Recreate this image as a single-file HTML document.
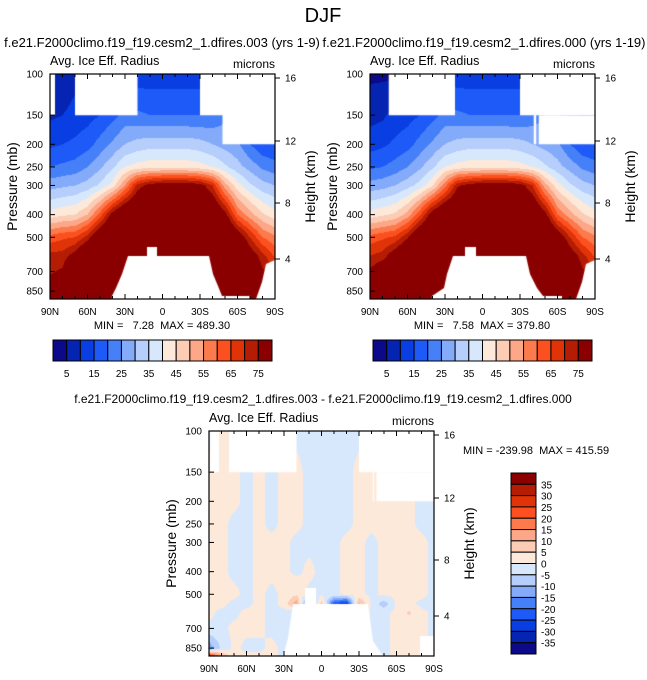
<!DOCTYPE html>
<html><head><meta charset="utf-8">
<style>
html,body{margin:0;padding:0;background:#fff;}
#root{position:relative;width:647px;height:680px;overflow:hidden;font-family:"Liberation Sans",Arial,sans-serif;}
canvas{position:absolute;}
svg{position:absolute;left:0;top:0;}
text{white-space:pre;}
</style></head>
<body>
<div id="root">
<canvas id="c1" width="225" height="225" style="left:50px;top:74px"></canvas>
<canvas id="c2" width="225" height="225" style="left:370px;top:74px"></canvas>
<canvas id="c3" width="225" height="225" style="left:209px;top:431px"></canvas>
<svg id="ov" width="647" height="680"></svg>
</div>
<script>
// ---- data ----
const lats = [90,80,70,60,50,40,30,20,10,0,-10,-20,-30,-40,-50,-60,-70,-80,-90];
const pressRows = [100,150,200,250,300,400,500,600,700,850,925];
const levels = [5,10,15,20,25,30,35,40,45,50,55,60,65,70,75];
const diffLevels = [-35,-30,-25,-20,-15,-10,-5,0,5,10,15,20,25,30,35];
const palette = ["#0c0a8a","#0624b2","#083ee2","#1e5af8","#4680f8","#84aafa","#b6cefc","#d8e8fc","#fde9da","#fcccb4","#fca888","#fc7a4c","#fc5020","#e03408","#b41c04","#8a0000"];
const heightTicks = [16,12,8,4];
const heightTickY = [78,141,203,259];
const pressTicks = [100,150,200,250,300,400,500,700,850];
const latTickLabels = ["90N","60N","30N","0","30S","60S","90S"];

const field1 = [
 [5,5,8,10,12,12,12,12,12,12,12,12,12,12,12,10,10,10,10],
 [9,10,12,13,15,18,22,21,20,20,20,20,20,21,24,26,18,14,12],
 [14,15,16,18,22,26,30,32,33,33,33,33,32,30,28,26,20,16,15],
 [20,21,22,25,29,34,40,42,43,43,43,43,42,40,36,32,28,24,22],
 [28,29,30,32,36,42,55,72,78,80,80,80,78,70,52,42,36,32,30],
 [42,44,45,50,62,78,88,90,90,90,90,90,90,88,78,60,52,46,42],
 [62,64,65,72,85,92,95,95,95,95,95,95,95,95,92,82,70,60,56],
 [72,72,78,88,92,95,95,95,95,95,95,95,95,95,95,90,80,72,64],
 [74,76,88,92,95,95,95,95,95,95,95,95,95,95,95,95,85,76,72],
 [80,84,90,95,95,95,95,95,95,95,95,95,95,95,95,95,88,80,78],
 [80,84,90,95,95,95,95,95,95,95,95,95,95,95,95,95,88,80,78]];
const field2 = [
 [4,4,4,8,12,12,12,12,12,12,12,12,12,12,12,10,10,10,10],
 [8,9,12,13,15,18,22,21,20,20,20,20,20,22,25,26,18,14,12],
 [13,14,16,18,22,26,30,32,33,33,33,33,32,30,28,26,20,16,15],
 [19,20,22,25,29,34,40,42,43,43,43,43,42,40,36,32,28,24,22],
 [27,28,30,33,37,44,58,74,78,80,80,80,78,70,52,42,36,32,30],
 [42,44,46,52,64,80,88,90,90,90,90,90,90,88,78,60,52,46,42],
 [62,64,66,74,86,92,95,95,95,95,95,95,95,95,92,82,70,60,56],
 [70,72,80,88,92,95,95,95,95,95,95,95,95,95,95,90,80,72,64],
 [76,82,88,92,95,95,95,95,95,95,95,95,95,95,95,95,85,76,72],
 [82,86,90,95,95,95,95,95,95,95,95,95,95,95,95,95,88,80,78],
 [82,86,90,95,95,95,95,95,95,95,95,95,95,95,95,95,88,80,78]];
const diffRows = [100,150,200,250,300,400,500,550,600,700,850,925];
const fieldDiff = [
 [-1,1,1,1,-1,-1,-1,-1,-1,-1,-1,-1,-1,-1,-1,-1,-1,-1,-1],
 [1,1,1,-1,1,-1,1,1,-1,-1,-1,-1,1,1,1,1,-1,-1,-1],
 [1,1,1,-1,1,-1,1,1,-1,-1,-1,-1,1,1,1,1,1,-1,-1],
 [1,1,-1,-1,1,-1,1,1,-1,-1,-1,-1,1,1,1,1,1,-1,-1],
 [1,1,-1,-1,1,1,1,-1,-1,-1,-1,1,1,-1,1,1,1,1,-1],
 [1,1,-1,-1,1,1,1,-1,1,-1,-1,1,1,-1,1,1,1,1,-1],
 [1,1,1,-1,1,-1,1,4,-1,-1,-1,1,1,-1,1,1,1,1,-1],
 [1,1,-1,-1,1,-1,1,14,-22,8,-24,-30,12,-1,-8,1,1,-1,-1],
 [1,-1,-1,1,1,-1,-1,-6,-20,-5,8,-20,10,-1,-1,1,6,1,-1],
 [-1,-1,1,1,1,-1,-1,-1,-1,-1,-1,-1,-1,-1,-1,1,1,1,-1],
 [-14,-4,1,-1,-1,1,-1,-1,-1,-1,-1,-1,-1,-1,-1,1,1,1,-1],
 [34,12,1,1,1,1,-1,-1,-1,-1,-1,-1,-1,-1,-1,1,1,1,-1]];

// ---- scales ----
const PW=225, PH=225, DEC=233.6;
function yOfP(p){return DEC*(Math.log10(p)-2);}
function xOfLat(lat){return (90-lat)/180*PW;}
function hexToRgb(h){return [parseInt(h.substr(1,2),16),parseInt(h.substr(3,2),16),parseInt(h.substr(5,2),16)];}
const palRgb = palette.map(hexToRgb);
function colorIdx(v,lv){let i=0;for(const l of lv){if(v>=l)i++;}return i;}
function sample(field,rows,x,y){
  const lat=90-x/PW*180; let fi=(90-lat)/10; fi=Math.max(0,Math.min(18,fi));
  const i0=Math.min(17,Math.floor(fi)), tx=fi-i0;
  const lp=2+y/DEC;
  let r=0; while(r<rows.length-2 && Math.log10(rows[r+1])<lp) r++;
  const a=Math.log10(rows[r]), b=Math.log10(rows[r+1]);
  let ty=(lp-a)/(b-a); ty=Math.max(0,Math.min(1,ty));
  const v00=field[r][i0],v01=field[r][i0+1],v10=field[r+1][i0],v11=field[r+1][i0+1];
  return (v00*(1-tx)+v01*tx)*(1-ty)+(v10*(1-tx)+v11*tx)*ty;
}
function paint(id,field,rows,lv,masks){
  const cv=document.getElementById(id), ctx=cv.getContext('2d');
  const img=ctx.createImageData(PW,PH);
  for(let y=0;y<PH;y++)for(let x=0;x<PW;x++){
    const c=palRgb[colorIdx(sample(field,rows,x+0.5,y+0.5),lv)];
    const k=(y*PW+x)*4; img.data[k]=c[0];img.data[k+1]=c[1];img.data[k+2]=c[2];img.data[k+3]=255;
  }
  ctx.putImageData(img,0,0);
  ctx.fillStyle="#fff";
  for(const m of masks){ctx.beginPath();m.forEach((p,i)=>i?ctx.lineTo(p[0],p[1]):ctx.moveTo(p[0],p[1]));ctx.closePath();ctx.fill();}
}
function poly(pts){return pts.map(p=>[xOfLat(p[0]),yOfP(p[1])]);}
// missing-data regions in panel pixel coords
const mountain1=[[62,PH],[62,222],[66,214],[72,200],[78,182],[83,182],[97,182],[97,173],[107,173],[107,182],[159,182],[163,200],[168,212],[172,222],[200,222],[200,PH]];
const mountain2=[[62,PH],[62,222],[74,214],[77,200],[83,182],[95,182],[95,173],[106,173],[106,182],[156,182],[160,200],[167,214],[173,222],[192,222],[192,PH]];
const corner=[[216,190],[PW,186],[PW,PH],[206,PH],[212,208]];
const masks1=[poly([[90,100],[86,100],[86,150],[90,150]]),poly([[70,100],[20,100],[20,150],[70,150]]),poly([[-30,100],[-90,100],[-90,150],[-30,150]]),poly([[-48,100],[-90,100],[-90,200],[-48,200]]),mountain1,corner];
const masks2=[poly([[75,100],[22,100],[22,150],[75,150]]),poly([[-30,100],[-90,100],[-90,150],[-30,150]]),poly([[-41,150],[-43,150],[-43,200],[-41,200]]),poly([[-45,150],[-90,150],[-90,200],[-45,200]]),mountain2,corner];
const masks3=[poly([[89,100],[82,100],[82,150],[89,150]]),poly([[74,100],[20,100],[20,150],[74,150]]),poly([[-30,100],[-90,100],[-90,150],[-30,150]]),poly([[-41,150],[-42,150],[-42,200],[-41,200]]),poly([[-44,150],[-90,150],[-90,200],[-44,200]]),
 [[74,PH],[79,207],[84,173],[96,173],[96,157],[107,157],[107,173],[159,173],[164,210],[174,PH]],[[211,205],[PW,205],[PW,PH],[211,PH]]];
paint('c1',field1,pressRows,levels,masks1);
paint('c2',field2,pressRows,levels,masks2);
paint('c3',fieldDiff,diffRows,diffLevels,masks3);

// ---- overlay ----
const NS="http://www.w3.org/2000/svg", svg=document.getElementById('ov');
function el(tag,attrs,txt){const e=document.createElementNS(NS,tag);for(const k in attrs)e.setAttribute(k,attrs[k]);if(txt!==undefined)e.textContent=txt;svg.appendChild(e);return e;}
function text(x,y,s,size,anchor,name,extra){const t=el('text',Object.assign({x:x,y:y,'font-size':size,'text-anchor':anchor||'start',fill:'#000','font-family':'Liberation Sans, Arial, sans-serif'},extra||{}),s);

return t;}

text(323,22,"DJF",20,"middle","main-title");
function drawPanel(ox,oy,prefix,subtitle,subX,minmax,mmX,mmY,mmAnchor){
  if(subtitle){text(subX,47,subtitle,13,"middle",prefix+"-subtitle");}
  text(ox,oy-9,"Avg. Ice Eff. Radius",12.5,"start",prefix+"-variable-label");
  text(ox+PW,oy-6,"microns",12,"end",prefix+"-units-label");
  const fr=el('rect',{x:ox,y:oy,width:PW,height:PH,fill:'none',stroke:'#000','stroke-width':1.2});
  
  
  pressTicks.forEach(p=>{
    const y=oy+yOfP(p);
    const tk=el('line',{x1:ox,y1:y,x2:ox+5,y2:y,stroke:'#000','stroke-width':1});
    
    
    text(ox-7,y+3.5,String(p),10,"end",prefix+"-pressure-tick-label");
  });
  for(let lat=90;lat>=-90;lat-=10){
    const x=ox+xOfLat(lat), major=(lat%30===0);
    const b=el('line',{x1:x,y1:oy+PH,x2:x,y2:oy+PH-(major?5:3),stroke:'#000','stroke-width':1});
    
    
    const tp=el('line',{x1:x,y1:oy,x2:x,y2:oy+(major?5:3),stroke:'#000','stroke-width':1});
    
    
  }
  latTickLabels.forEach((s,i)=>{text(ox+i*PW/6,oy+PH+16,s,10,"middle",prefix+"-lat-tick-label");});
  heightTicks.forEach((h,i)=>{
    const y=oy+heightTickY[i]-74;
    const tk=el('line',{x1:ox+PW,y1:y,x2:ox+PW+5,y2:y,stroke:'#000','stroke-width':1});
    
    
    text(ox+PW+10,y+3.5,String(h),10,"start",prefix+"-height-tick-label");
  });
  text(0,0,"Pressure (mb)",14,"middle",prefix+"-y-axis-title",{transform:`translate(${ox-33},${oy+PH/2}) rotate(-90)`});
  text(0,0,"Height (km)",14,"middle",prefix+"-right-axis-title",{transform:`translate(${ox+PW+40},${oy+PH/2}) rotate(-90)`});
  text(mmX,mmY,minmax,11,mmAnchor,prefix+"-min-max-label");
}
drawPanel(50,74,"ctl","f.e21.F2000climo.f19_f19.cesm2_1.dfires.003 (yrs 1-9)",162,"MIN =   7.28  MAX = 489.30",162,329,"middle");
drawPanel(370,74,"test","f.e21.F2000climo.f19_f19.cesm2_1.dfires.000 (yrs 1-19)",484,"MIN =   7.58  MAX = 379.80",482,329,"middle");
text(323,403,"f.e21.F2000climo.f19_f19.cesm2_1.dfires.003 - f.e21.F2000climo.f19_f19.cesm2_1.dfires.000",12,"middle","diff-subtitle");
drawPanel(209,431,"diff",null,0,"MIN = -239.98  MAX = 415.59",463,454,"start");

// horizontal colorbars
const cbLabels=["5","15","25","35","45","55","65","75"];
function hbar(x0,prefix){
  const w=219/16;
  palette.forEach((c,i)=>{const r=el('rect',{x:x0+i*w,y:340,width:w,height:21,fill:c,stroke:'#000','stroke-width':1});
    
    });
  cbLabels.forEach((s,i)=>text(x0+(1+2*i)*w,377,s,10,"middle",prefix+"-colorbar-label"));
}
hbar(53,"ctl");hbar(373,"test");
const dLabels=["35","30","25","20","15","10","5","0","-5","-10","-15","-20","-25","-30","-35"];
const dh=181/16;
palette.slice().reverse().forEach((c,i)=>{const r=el('rect',{x:511,y:473+i*dh,width:25,height:dh,fill:c,stroke:'#000','stroke-width':1});
  
  });
dLabels.forEach((s,i)=>text(541,473+(i+1)*dh+4,s,10,"start","diff-colorbar-label"));
</script>
</body></html>
